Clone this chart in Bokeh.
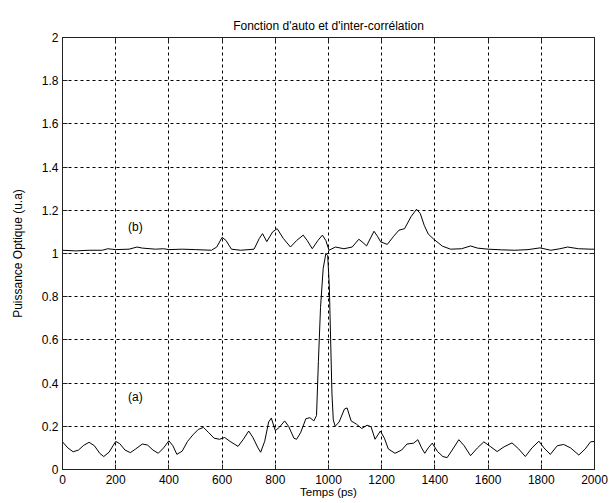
from bokeh.plotting import figure
from bokeh.models import Range1d, FixedTicker, LinearAxis, Label
from bokeh.embed import file_html
from bokeh.resources import INLINE

# ---- data ----
x_ticks = [0, 200, 400, 600, 800, 1000, 1200, 1400, 1600, 1800, 2000]
y_ticks = [0, 0.2, 0.4, 0.6, 0.8, 1.0, 1.2, 1.4, 1.6, 1.8, 2.0]
y_tick_labels = ["0", "0.2", "0.4", "0.6", "0.8", "1", "1.2", "1.4", "1.6", "1.8", "2"]

a_t = [0, 20, 40, 60, 80, 100, 120, 140, 155, 175, 200, 215, 235, 255, 275, 300, 320, 340,
       360, 380, 400, 415, 430, 450, 470, 490, 510, 530, 550, 570, 590, 610, 630, 660, 680,
       700, 715, 735, 745, 760, 775, 785, 800, 815, 835, 850, 870, 880, 895, 915, 930, 945,
       955, 962, 970, 980, 990, 997, 1003, 1008, 1013, 1018, 1025, 1040, 1060, 1070, 1085,
       1105, 1125, 1145, 1160, 1175, 1195, 1210, 1225, 1250, 1275, 1295, 1320, 1336, 1350,
       1362, 1375, 1390, 1410, 1430, 1446, 1465, 1490, 1510, 1534, 1560, 1584, 1610, 1634,
       1660, 1690, 1715, 1740, 1765, 1791, 1810, 1834, 1860, 1884, 1910, 1941, 1965, 1985, 2000]
a_p = [0.128, 0.10, 0.082, 0.09, 0.112, 0.126, 0.11, 0.075, 0.06, 0.08, 0.13, 0.12, 0.09, 0.078,
       0.095, 0.118, 0.113, 0.09, 0.075, 0.1, 0.133, 0.11, 0.07, 0.085, 0.13, 0.16, 0.185, 0.195,
       0.17, 0.145, 0.14, 0.148, 0.13, 0.107, 0.14, 0.178, 0.15, 0.1, 0.08, 0.13, 0.22, 0.238,
       0.18, 0.195, 0.225, 0.2, 0.145, 0.14, 0.17, 0.235, 0.24, 0.225, 0.25, 0.5, 0.75, 0.93,
       1.0, 0.99, 0.85, 0.6, 0.35, 0.23, 0.2, 0.22, 0.28, 0.285, 0.225, 0.21, 0.19, 0.205, 0.198,
       0.14, 0.178, 0.145, 0.095, 0.075, 0.09, 0.118, 0.122, 0.138, 0.1, 0.075, 0.1, 0.122,
       0.083, 0.06, 0.055, 0.09, 0.138, 0.11, 0.064, 0.1, 0.128, 0.105, 0.083, 0.105, 0.123,
       0.095, 0.06, 0.1, 0.131, 0.1, 0.07, 0.11, 0.116, 0.1, 0.067, 0.095, 0.128, 0.13]

b_t = [0, 50, 100, 150, 170, 200, 250, 280, 300, 350, 380, 400, 450, 500, 560, 580, 600, 615,
       635, 670, 720, 740, 752, 768, 790, 807, 830, 857, 880, 905, 920, 939, 960, 977, 990,
       1002, 1026, 1058, 1089, 1114, 1130, 1143, 1171, 1184, 1196, 1221, 1245, 1265, 1286,
       1310, 1331, 1345, 1360, 1375, 1396, 1428, 1459, 1500, 1534, 1560, 1600, 1650, 1700,
       1750, 1795, 1836, 1870, 1899, 1940, 1987, 2000]
b_p = [1.015, 1.012, 1.015, 1.015, 1.022, 1.018, 1.02, 1.03, 1.025, 1.02, 1.022, 1.018, 1.02,
       1.018, 1.015, 1.03, 1.075, 1.06, 1.02, 1.015, 1.02, 1.07, 1.092, 1.055, 1.1, 1.115,
       1.07, 1.03, 1.06, 1.085, 1.06, 1.022, 1.06, 1.085, 1.06, 1.015, 1.03, 1.022, 1.03,
       1.066, 1.05, 1.035, 1.103, 1.08, 1.054, 1.042, 1.08, 1.108, 1.115, 1.17, 1.205, 1.185,
       1.13, 1.09, 1.066, 1.034, 1.02, 1.022, 1.035, 1.025, 1.02, 1.017, 1.015, 1.018, 1.026,
       1.015, 1.022, 1.03, 1.022, 1.02, 1.02]

title_text = "Fonction d'auto et d'inter-corrélation"
x_label = "Temps (ps)"
y_label = "Puissance Optique (u.a)"
curve_labels = ["(a)", "(b)"]
curve_label_x = [274, 274]
curve_label_y = [0.335, 1.122]

FONT = "Liberation Sans"
FS = "12px"

p = figure(width=608, height=501, x_range=Range1d(0, 2000), y_range=Range1d(0, 2),
           output_backend="svg", toolbar_location=None,
           min_border_left=62, min_border_right=14, min_border_top=37, min_border_bottom=32,
           title=title_text, x_axis_label=x_label, y_axis_label=y_label)

p.background_fill_color = "white"
p.border_fill_color = "white"
p.outline_line_color = "#222222"
p.outline_line_width = 1

p.title.align = "center"
p.title.text_font = FONT
p.title.text_font_size = FS
p.title.text_font_style = "normal"
p.title.text_color = "black"
p.title.standoff = 10

for ax in (p.xaxis[0], p.yaxis[0]):
    ax.axis_label_text_font = FONT
    ax.axis_label_text_font_size = FS
    ax.axis_label_text_font_style = "normal"
    ax.axis_label_text_color = "black"
    ax.major_label_text_font = FONT
    ax.major_label_text_font_size = FS
    ax.major_label_text_color = "black"
    ax.major_tick_in = 5
    ax.major_tick_out = 0
    ax.minor_tick_in = 0
    ax.minor_tick_out = 0
    ax.axis_line_color = "#222222"
    ax.major_tick_line_color = "#222222"

p.xaxis[0].axis_label_text_font_size = "11.5px"
p.xaxis[0].ticker = FixedTicker(ticks=x_ticks)
p.yaxis[0].ticker = FixedTicker(ticks=y_ticks)
p.yaxis[0].major_label_overrides = {v: s for v, s in zip(y_ticks, y_tick_labels)}
p.xaxis[0].major_label_standoff = 5
p.xaxis[0].axis_label_standoff = -1
p.yaxis[0].major_label_standoff = 4
p.yaxis[0].axis_label_standoff = 14

# box ticks (MATLAB "box on") on top and right
top_ax = LinearAxis(ticker=FixedTicker(ticks=x_ticks))
right_ax = LinearAxis(ticker=FixedTicker(ticks=y_ticks))
for ax in (top_ax, right_ax):
    ax.major_label_text_font_size = "0px"
    ax.major_label_standoff = 0
    ax.major_tick_in = 5
    ax.major_tick_out = 0
    ax.minor_tick_in = 0
    ax.minor_tick_out = 0
    ax.axis_line_color = None
    ax.major_tick_line_color = "#222222"
p.add_layout(top_ax, "above")
p.add_layout(right_ax, "right")

p.xgrid[0].ticker = FixedTicker(ticks=x_ticks)
p.ygrid[0].ticker = FixedTicker(ticks=y_ticks)
for g in (p.xgrid[0], p.ygrid[0]):
    g.grid_line_color = "black"
    g.grid_line_dash = "3 3"
    g.grid_line_width = 1
    g.grid_line_alpha = 1.0

p.line(a_t, a_p, line_color="black", line_width=1)
p.line(b_t, b_p, line_color="black", line_width=1)

for txt, lx, ly in zip(curve_labels, curve_label_x, curve_label_y):
    p.add_layout(Label(x=lx, y=ly, text=txt, text_font=FONT, text_font_size=FS,
                       text_align="center", text_baseline="middle", text_color="black"))

open("out.html", "w").write(file_html(p, INLINE))
